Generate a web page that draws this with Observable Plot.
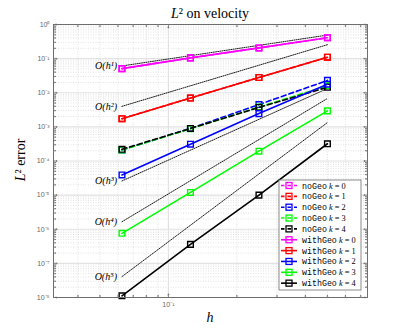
<!DOCTYPE html>
<html><head><meta charset="utf-8">
<script src="https://cdn.jsdelivr.net/npm/d3@7"></script>
<script src="https://cdn.jsdelivr.net/npm/@observablehq/plot@0.6"></script>
<style>body{margin:0;background:#fff}</style>
</head><body><div id="chart"></div>
<script>
// ---- data ----
const h = [0.0625, 0.125, 0.25, 0.5];
const seriesNames = ["noGeo", "noGeo", "noGeo", "noGeo", "noGeo", "withGeo", "withGeo", "withGeo", "withGeo", "withGeo"];
const seriesK = [0, 1, 2, 3, 4, 0, 1, 2, 3, 4];
const seriesColors = ["#ff00ff", "#ff0000", "#0000ff", "#00ff00", "#000000", "#ff00ff", "#ff0000", "#0000ff", "#00ff00", "#000000"];
const noGeoK0 = [0.051, 0.105, 0.206, 0.41];
const noGeoK1 = [1.74e-3, 7.0e-3, 0.028, 0.11];
const noGeoK2 = [2.1e-4, 9.0e-4, 4.5e-3, 0.023];
const noGeoK3 = [2.1e-4, 8.8e-4, 3.8e-3, 0.016];
const noGeoK4 = [2.2e-4, 9.0e-4, 3.7e-3, 0.0145];
const withGeoK0 = [0.051, 0.105, 0.206, 0.41];
const withGeoK1 = [1.74e-3, 7.0e-3, 0.028, 0.11];
const withGeoK2 = [3.9e-5, 3.1e-4, 2.45e-3, 0.0178];
const withGeoK3 = [7.6e-7, 1.2e-5, 1.94e-4, 2.95e-3];
const withGeoK4 = [1.12e-8, 3.6e-7, 1.0e-5, 3.2e-4];
const seriesValues = [noGeoK0, noGeoK1, noGeoK2, noGeoK3, noGeoK4, withGeoK0, withGeoK1, withGeoK2, withGeoK3, withGeoK4];

// reference slopes O(h^k): endpoints
const refH = [0.0625, 0.5];
const refLabels = ["O(h¹)", "O(h²)", "O(h³)", "O(h⁴)", "O(h⁵)"];
const refStart = [0.061, 4.0e-3, 2.6e-5, 1.66e-6, 4.1e-8];
const refEnd = [0.49, 0.256, 0.0133, 6.8e-3, 1.34e-3];

// axis ticks
const yMajor = [1, 1e-1, 1e-2, 1e-3, 1e-4, 1e-5, 1e-6, 1e-7, 1e-8];
const yTickLabels = ["10⁰", "10⁻¹", "10⁻²", "10⁻³", "10⁻⁴", "10⁻⁵", "10⁻⁶", "10⁻⁷", "10⁻⁸"];
const xMajor = [0.1];
const xTickLabels = ["10⁻¹"];
const yMinor = [];
for (let e = -8; e < 0; e++) for (let m = 2; m <= 9; m++) yMinor.push(m * Math.pow(10, e));
const xMinor = [0.04, 0.05, 0.06, 0.07, 0.08, 0.09, 0.2, 0.3, 0.4, 0.5, 0.6, 0.7];

// ---- build tables ----
const rows = [];
seriesValues.forEach((vals, s) => vals.forEach((v, i) => rows.push({s, h: h[i], err: v})));
const refRows = [];
refStart.forEach((v, i) => {
  refRows.push({i, h: refH[0], err: v});
  refRows.push({i, h: refH[1], err: refEnd[i]});
});
const refLabelRows = refStart.map((v, i) => ({h: refH[0], err: v, label: refLabels[i]}));
const yTickRows = yMajor.map((v, i) => ({v, label: yTickLabels[i]}));
const xTickRows = xMajor.map((v, i) => ({v, label: xTickLabels[i]}));

const marks = [
  Plot.gridY(yMinor, {stroke: "#cfcfcf", strokeOpacity: 1, strokeDasharray: "1,1.5", strokeWidth: 0.6}),
  Plot.gridX(xMinor, {stroke: "#cfcfcf", strokeOpacity: 1, strokeDasharray: "1,1.5", strokeWidth: 0.6}),
  Plot.gridY(yMajor, {stroke: "#e2e2e2", strokeOpacity: 1, strokeWidth: 1.2}),
  Plot.gridX(xMajor, {stroke: "#e2e2e2", strokeOpacity: 1, strokeWidth: 1.2}),
  Plot.line(refRows, {x: "h", y: "err", z: "i", stroke: "#000", strokeWidth: 0.9, strokeDasharray: "1,1.2"}),
  Plot.text(refLabelRows, {x: "h", y: "err", text: "label", textAnchor: "end", dx: -5, fontFamily: "Liberation Serif", fontStyle: "italic", fontSize: 10, fill: "#000"})
];
seriesValues.forEach((vals, s) => {
  const data = rows.filter(r => r.s === s);
  const dashed = seriesNames[s] === "noGeo";
  marks.push(Plot.line(data, {x: "h", y: "err", stroke: seriesColors[s], strokeWidth: 1.6, strokeDasharray: dashed ? "5,3" : null}));
  marks.push(Plot.dot(data, {x: "h", y: "err", symbol: "square", r: 3.2, stroke: seriesColors[s], strokeWidth: 1.4, fill: "none"}));
});
// ticks (inside the box)
const tickStyle = {stroke: "#6e6e6e", strokeWidth: 0.8, anchor: "start"};
marks.push(
  Plot.vector(yMajor, {y: d => d, frameAnchor: "left", rotate: 90, length: 3.5, ...tickStyle}),
  Plot.vector(yMajor, {y: d => d, frameAnchor: "right", rotate: -90, length: 3.5, ...tickStyle}),
  Plot.vector(yMinor, {y: d => d, frameAnchor: "left", rotate: 90, length: 2, ...tickStyle}),
  Plot.vector(yMinor, {y: d => d, frameAnchor: "right", rotate: -90, length: 2, ...tickStyle}),
  Plot.vector(xMajor, {x: d => d, frameAnchor: "bottom", rotate: 0, length: 3.5, ...tickStyle}),
  Plot.vector(xMajor, {x: d => d, frameAnchor: "top", rotate: 180, length: 3.5, ...tickStyle}),
  Plot.vector(xMinor, {x: d => d, frameAnchor: "bottom", rotate: 0, length: 2, ...tickStyle}),
  Plot.vector(xMinor, {x: d => d, frameAnchor: "top", rotate: 180, length: 2, ...tickStyle}),
  Plot.text(yTickRows, {y: "v", text: "label", frameAnchor: "left", textAnchor: "end", dx: -4, fontSize: 7, fill: "#666", fontFamily: "Liberation Sans"}),
  Plot.text(xTickRows, {x: "v", text: "label", frameAnchor: "bottom", textAnchor: "middle", dy: 9, fontSize: 7, fill: "#666", fontFamily: "Liberation Sans"}),
  Plot.frame({stroke: "#6e6e6e", strokeWidth: 1})
);

const svg = Plot.plot({
  width: 407, height: 334,
  marginLeft: 53, marginRight: 40, marginTop: 24, marginBottom: 37,
  style: {background: "#fff", overflow: "visible"},
  x: {type: "log", domain: [1 / 32, 0.75], axis: null},
  y: {type: "log", domain: [1e-8, 1], axis: null},
  marks
});

const s = d3.select(svg);
// title
const t = s.append("text").attr("x", 210).attr("y", 18).attr("text-anchor", "middle")
  .attr("font-family", "Liberation Serif").attr("font-size", 14).attr("fill", "#000");
t.append("tspan").attr("font-style", "italic").text("L");
t.append("tspan").text("² on velocity");
// y label
const yl = s.append("text").attr("transform", "translate(25,160) rotate(-90)").attr("text-anchor", "middle")
  .attr("font-family", "Liberation Serif").attr("font-size", 14).attr("fill", "#000");
yl.append("tspan").attr("font-style", "italic").text("L");
yl.append("tspan").text("² error");
// x label
s.append("text").attr("x", 210).attr("y", 322).attr("text-anchor", "middle")
  .attr("font-family", "Liberation Serif").attr("font-style", "italic").attr("font-size", 14).attr("fill", "#000").text("h");

// legend
const lg = s.append("g").attr("text-anchor", "start");
lg.append("rect").attr("x", 279).attr("y", 180).attr("width", 82).attr("height", 110)
  .attr("fill", "#fff").attr("stroke", "#6e6e6e").attr("stroke-width", 0.8);
seriesNames.forEach((name, i) => {
  const y = 185.5 + i * 10.85;
  const dashed = name === "noGeo";
  lg.append("line").attr("x1", 281).attr("x2", 297).attr("y1", y).attr("y2", y)
    .attr("stroke", seriesColors[i]).attr("stroke-width", 1.6).attr("stroke-dasharray", dashed ? "3.5,3" : null);
  lg.append("rect").attr("x", 286).attr("y", y - 3).attr("width", 6).attr("height", 6)
    .attr("fill", "none").attr("stroke", seriesColors[i]).attr("stroke-width", 1.3);
  const tx = lg.append("text").attr("x", 302).attr("y", y + 3).attr("text-anchor", "start").attr("font-size", 8.3).attr("fill", "#000");
  tx.append("tspan").attr("font-family", "Liberation Mono").text(name);
  tx.append("tspan").attr("font-family", "Liberation Serif").attr("font-style", "italic").text(" k");
  tx.append("tspan").attr("font-family", "Liberation Serif").text(" = " + seriesK[i]);
});

document.getElementById("chart").appendChild(svg);
</script>
</body></html>
